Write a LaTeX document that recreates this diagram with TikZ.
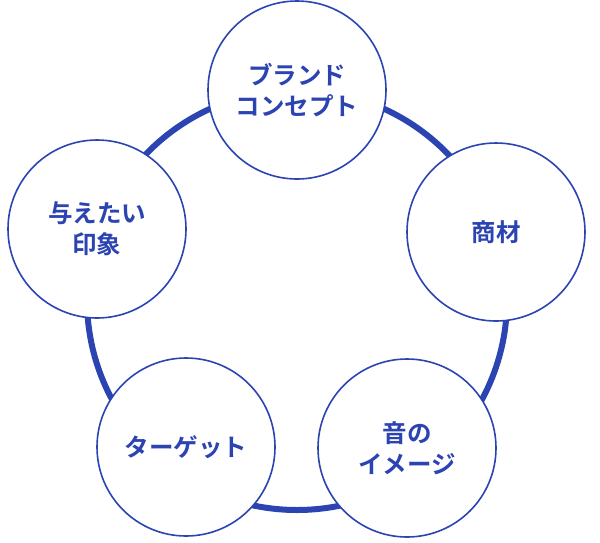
\documentclass[tikz,border=0pt]{standalone}
\usepackage{fontspec}
\newfontfamily\cjk{Noto Sans CJK JP Bold}
\definecolor{bl}{HTML}{2B44B2}
\begin{document}
\begin{tikzpicture}[x=1pt,y=-1pt,
  pc/.style={circle,draw=bl,line width=1.6pt,fill=white,minimum size=178pt,inner sep=0pt,align=center,font=\cjk\fontsize{24.5}{31}\selectfont,text=bl}]
\useasboundingbox (0,0) rectangle (600,542);
\coordinate (c) at (297,300);
\draw[bl,line width=6pt] (c) circle (210);
\node[pc] (a) at (297,90) {ブランド\\コンセプト};
\node[pc] (b) at (496,232) {商材};
\node[pc] (d) at (407,448) {音の\\イメージ};
\node[pc] (e) at (186,447) {ターゲット};
\node[pc] (f) at (97,229) {与えたい\\印象};
\end{tikzpicture}
\end{document}
